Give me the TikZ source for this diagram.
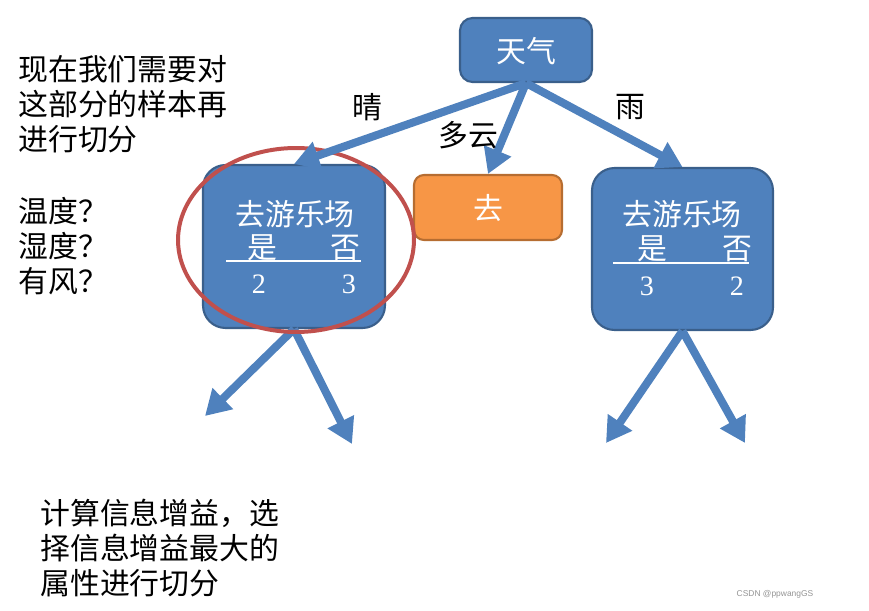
\documentclass[tikz,border=0pt]{standalone}
\usepackage{fontspec}
\setmainfont{Noto Sans CJK SC}
\newfontfamily\numfont{Liberation Serif}
\newfontfamily\markfont{Liberation Sans}
\usepackage{xcolor}
\usetikzlibrary{arrows.meta,shapes,positioning,calc}

\definecolor{nodeblue}{HTML}{4F81BD}
\definecolor{nodeblueline}{HTML}{3A5F8B}
\definecolor{nodeorange}{HTML}{F79646}
\definecolor{nodeorangeline}{HTML}{B66D31}
\definecolor{ringred}{HTML}{C0504D}

\begin{document}
\begin{tikzpicture}[x=0.02cm, y=-0.02cm,
  every node/.style={inner sep=0pt},
  bigtext/.style={font=\fontsize{17pt}{19.9pt}\selectfont},
  whitetext/.style={bigtext, text=white},
  numtext/.style={font=\numfont\fontsize{16pt}{18pt}\selectfont, text=white},
  bluebox/.style={draw=nodeblueline, line width=1.2pt, fill=nodeblue},
  orangebox/.style={draw=nodeorangeline, line width=1.2pt, fill=nodeorange},
  branch/.style={draw=nodeblue, line width=0.16cm, -{Triangle[width=0.56cm,length=0.5cm]}}]
\useasboundingbox (0,0) rectangle (869,611);

% Root node
\node[bluebox, rounded corners=0.25cm, minimum width=2.64cm, minimum height=1.28cm] (weather) at (526,50) {};
\node[whitetext] (weathertext) at (526,51) {天气};

% Level 1 nodes
\node[bluebox, rounded corners=0.45cm, minimum width=3.64cm, minimum height=3.26cm] (sunny) at (294,246.5) {};
\node[orangebox, rounded corners=0.2cm, minimum width=2.96cm, minimum height=1.3cm] (cloudy) at (488,207.5) {};
\node[bluebox, rounded corners=0.45cm, minimum width=3.62cm, minimum height=3.24cm] (rainy) at (682.5,249) {};

% Contents of the sunny node
\node[whitetext] (sunnytitle) at (295,214) {去游乐场};
\node[whitetext] (sunnyyes) at (262,248) {是};
\node[whitetext] (sunnyno) at (345,248) {否};
\draw[white, line width=0.8pt] (226,261) -- (361,261);
\node[numtext] (sunnyyesnum) at (259,284) {2};
\node[numtext] (sunnynonum) at (349,284) {3};

% Contents of the cloudy node
\node[whitetext] (cloudytext) at (488,208) {去};

% Contents of the rainy node
\node[whitetext] (rainytitle) at (682,214) {去游乐场};
\node[whitetext] (rainyyes) at (652,249) {是};
\node[whitetext] (rainyno) at (737,249) {否};
\draw[white, line width=0.8pt] (613,263) -- (749,263);
\node[numtext] (rainyyesnum) at (647,286) {3};
\node[numtext] (rainynonum) at (737,286) {2};

% Open branches below
\coordinate (sunnyleft) at (205,416);
\coordinate (sunnyright) at (352,444);
\coordinate (rainyleft) at (606,443);
\coordinate (rainyright) at (745,443);
\draw[branch] (sunny.south) -- (sunnyleft);
\draw[branch] (sunny.south) -- (sunnyright);
\draw[branch] (rainy.south) -- (rainyleft);
\draw[branch] (rainy.south) -- (rainyright);

% Circle round the node to split again
\node[draw=ringred, line width=0.08cm, ellipse, minimum width=4.72cm, minimum height=3.68cm] (ring) at (296,240) {};

% Branches from the root
\draw[branch] (weather.south) -- (sunny.north);
\draw[branch] (weather.south) -- (cloudy.north);
\draw[branch] (weather.south) -- (rainy.north);

% Branch labels
\node[bigtext] (sunnylabel) at (367,107) {晴};
\node[bigtext] (cloudylabel) at (468,135) {多云};
\node[bigtext] (rainylabel) at (630,107) {雨};

% Notes
\node[bigtext, align=left, anchor=west] (question) at (18,104) {现在我们需要对\\这部分的样本再\\进行切分};
\node[bigtext, align=left, anchor=west] (features) at (18,246) {温度？\\湿度？\\有风？};
\node[bigtext, align=left, anchor=west] (method) at (40,548) {计算信息增益，选\\择信息增益最大的\\属性进行切分};

% Watermark
\node[font=\markfont\fontsize{4.8pt}{6pt}\selectfont, text=black!42] (watermark) at (775,594) {CSDN @ppwangGS};
\end{tikzpicture}
\end{document}
